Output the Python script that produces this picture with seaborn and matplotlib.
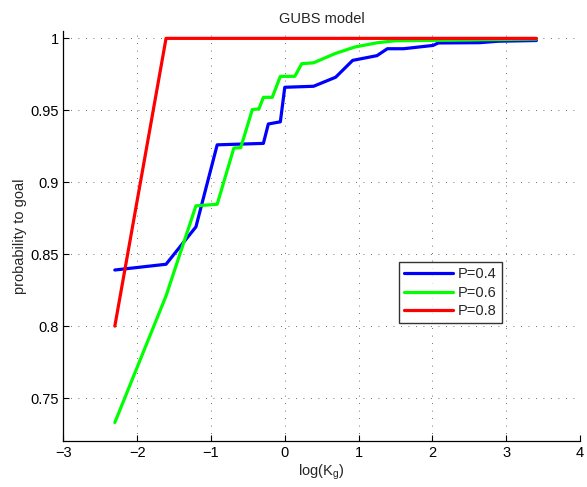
"""
GUBS model: probability to goal against log(K_g) for three values of P
"""

import matplotlib
matplotlib.use('Agg')
import matplotlib.pyplot as plt
from matplotlib.ticker import FuncFormatter
import seaborn as sns
import pandas as pd

sns.set_style("white")
plt.rcParams['font.family'] = ['Liberation Sans', 'DejaVu Sans']

# values
x_p04 = [-2.303, -1.609, -1.204, -0.916, -0.29, -0.223, -0.06, 0.0, 0.39, 0.69,
         0.92, 1.25, 1.39, 1.61, 2.01, 2.08, 2.64, 2.89, 3.41]
y_p04 = [0.839, 0.843, 0.869, 0.926, 0.927, 0.9405, 0.942, 0.966, 0.9667, 0.973,
         0.9847, 0.988, 0.9928, 0.9928, 0.9951, 0.9968, 0.997, 0.998, 0.9985]

x_p06 = [-2.303, -1.609, -1.204, -0.916, -0.69, -0.597, -0.44, -0.35, -0.29, -0.17,
         -0.06, 0.136, 0.23, 0.39, 0.68, 0.95, 1.26, 1.49, 1.98, 2.6, 3.41]
y_p06 = [0.733, 0.821, 0.8836, 0.8847, 0.9238, 0.924, 0.9505, 0.951, 0.959, 0.959,
         0.9736, 0.9736, 0.9824, 0.983, 0.9894, 0.994, 0.997, 0.9983, 0.9986, 0.999, 0.9995]

x_p08 = [-2.303, -1.609, 3.41]
y_p08 = [0.8, 1.0, 1.0]

labels = ['P=0.4', 'P=0.6', 'P=0.8']
colors = ['#0000ff', '#00ff00', '#ff0000']

frames = []
for lab, xs, ys in zip(labels, [x_p04, x_p06, x_p08], [y_p04, y_p06, y_p08]):
    frames.append(pd.DataFrame({'logK': xs, 'prob': ys, 'series': lab}))
df = pd.concat(frames, ignore_index=True)

fig = plt.figure(figsize=(5.87, 4.87), dpi=100)
ax = fig.add_axes([0.108, 0.094, 0.880, 0.842])

sns.lineplot(data=df, x='logK', y='prob', hue='series', palette=colors,
             estimator=None, sort=False, linewidth=2.3, ax=ax)

ax.set_xlim(-3, 4)
ax.set_ylim(0.72, 1.005)
ax.set_xticks(range(-3, 5))
ax.set_yticks([0.75, 0.8, 0.85, 0.9, 0.95, 1.0])
ax.yaxis.set_major_formatter(FuncFormatter(lambda v, p: f'{v:g}'))
ax.tick_params(direction='in', length=4, width=0.8, labelsize=10.5,
               left=True, bottom=True, color='black', labelcolor='black')

ax.grid(True, linestyle=(0, (1, 8)), color='black', linewidth=0.6, alpha=0.75)
for side in ['top', 'right']:
    ax.spines[side].set_visible(False)
for side in ['left', 'bottom']:
    ax.spines[side].set_color('black')
    ax.spines[side].set_linewidth(0.9)

ax.set_title('GUBS model', fontsize=10.5, pad=6)
ax.set_xlabel('log(K$_\\mathregular{g}$)', fontsize=10.5, labelpad=2)
ax.set_ylabel('probability to goal', fontsize=10.5, labelpad=2)

leg = ax.legend(loc='lower left', bbox_to_anchor=(0.649, 0.288), fontsize=10.5,
                frameon=True, fancybox=False, edgecolor='black',
                handlelength=3.4, borderpad=0.35, labelspacing=0.3,
                handletextpad=0.3, borderaxespad=0)
leg.get_frame().set_linewidth(1.0)
for line in leg.get_lines():
    line.set_linewidth(2.3)

plt.savefig('out.png', dpi=100, facecolor='white')
plt.close(fig)
